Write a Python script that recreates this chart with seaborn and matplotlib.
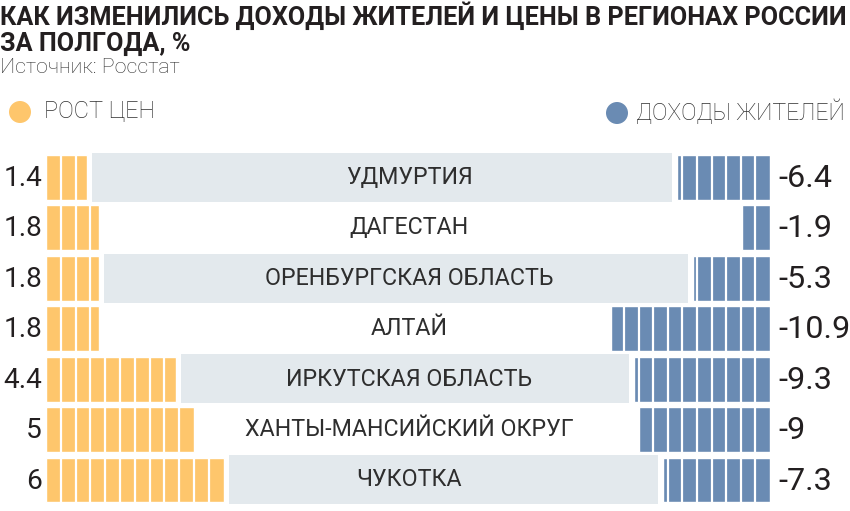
import matplotlib
matplotlib.use("Agg")
import matplotlib.pyplot as plt
import matplotlib.transforms as mtransforms
from matplotlib.patches import Rectangle, Ellipse
import seaborn as sns
import numpy as np
import pandas as pd

# ---- data ----
regions = ["УДМУРТИЯ", "ДАГЕСТАН", "ОРЕНБУРГСКАЯ ОБЛАСТЬ", "АЛТАЙ",
           "ИРКУТСКАЯ ОБЛАСТЬ", "ХАНТЫ-МАНСИЙСКИЙ ОКРУГ", "ЧУКОТКА"]
prices = [1.4, 1.8, 1.8, 1.8, 4.4, 5, 6]
incomes = [-6.4, -1.9, -5.3, -10.9, -9.3, -9, -7.3]
price_labels = ["1.4", "1.8", "1.8", "1.8", "4.4", "5", "6"]
income_labels = ["-6.4", "-1.9", "-5.3", "-10.9", "-9.3", "-9", "-7.3"]
title_line1 = "КАК ИЗМЕНИЛИСЬ ДОХОДЫ ЖИТЕЛЕЙ И ЦЕНЫ В РЕГИОНАХ РОССИИ"
title_line2 = "ЗА ПОЛГОДА, %"
source = "Источник: Росстат"
legend_labels = ["РОСТ ЦЕН", "ДОХОДЫ ЖИТЕЛЕЙ"]

YELLOW = "#fec66c"
BLUE = "#6a8bb3"
BOX = "#e3e9ed"
INK = "#231f20"

sns.set_theme(style="white")
plt.rcParams["font.family"] = ["Roboto", "DejaVu Sans"]

W, H = 850, 511
fig = plt.figure(figsize=(W / 100, H / 100), dpi=100)
renderer = fig.canvas.get_renderer()


def fx(x):
    return x / W


def fy(y):
    return 1 - y / H


def fit_size(text, target_px, **kw):
    t = fig.text(0, 0, text, fontsize=20, **kw)
    w = t.get_window_extent(renderer).width
    t.remove()
    return 20 * target_px / w


# bar area: x from 46 to 770 px, rows from 152 to 505 px
left_px, right_px = 46, 770
top_px, bot_px = 152.3, 505.2
rect = [fx(left_px), fy(bot_px), fx(right_px - left_px), (bot_px - top_px) / H]
yellow_scale = 29.6  # px per unit
blue_scale = 14.6

df = pd.DataFrame({"region": regions, "price": prices,
                   "income": np.abs(incomes)})

ax_y = fig.add_axes(rect)
ax_b = fig.add_axes(rect)
ax_b.patch.set_alpha(0)

bar_h = 0.89
sns.barplot(data=df, x="price", y="region", orient="h", ax=ax_y,
            color=YELLOW, saturation=1, width=bar_h, zorder=2)
sns.barplot(data=df, x="income", y="region", orient="h", ax=ax_b,
            color=BLUE, saturation=1, width=bar_h, zorder=2)

ax_y.set_xlim(0, (right_px - left_px) / yellow_scale)
ax_b.set_xlim((right_px - left_px) / blue_scale, 0)
for ax in (ax_y, ax_b):
    ax.set_ylim(len(regions) - 0.5, -0.5)
    ax.axis("off")

# segment dividers
for i, (p, inc) in enumerate(zip(prices, np.abs(incomes))):
    xs = np.arange(0.5, p, 0.5)
    ax_y.vlines(xs, i - bar_h / 2, i + bar_h / 2, color="white", lw=1.6, zorder=3)
    xb = np.arange(1, inc, 1.0)
    ax_b.vlines(xb, i - bar_h / 2, i + bar_h / 2, color="white", lw=1.6, zorder=3)

# grey label boxes on alternating rows
gap = 5 / yellow_scale
inv = ax_y.transData.inverted()
for i in range(0, len(regions), 2):
    xd = ax_b.transData.transform((abs(incomes[i]), i))[0]
    xstart_b = inv.transform((xd, 0))[0]
    x0 = prices[i] + gap
    x1 = xstart_b - gap
    ax_y.add_patch(Rectangle((x0, i - 0.5 + 0.01), x1 - x0, 0.97,
                             facecolor=BOX, edgecolor="none", zorder=0))

# row texts
reg_fs = fit_size("ОРЕНБУРГСКАЯ ОБЛАСТЬ", 290)
num_fs_r = fit_size("-6.4", 54)
num_fs_l = fit_size("4.4", 39)
bt = mtransforms.blended_transform_factory(fig.transFigure, ax_y.transData)
for i, reg in enumerate(regions):
    ax_y.text(fx(409), i, reg, transform=bt, ha="center", va="center",
              fontsize=reg_fs, color="#2e2e2e", zorder=4)
    ax_y.text(fx(42), i + 0.02, price_labels[i], transform=bt, ha="right",
              va="center", fontsize=num_fs_l, color=INK)
    ax_y.text(fx(778), i + 0.02, income_labels[i], transform=bt, ha="left",
              va="center", fontsize=num_fs_r, color=INK)

# title & source
t_fs = fit_size(title_line1, 843, fontweight="bold")
fig.text(fx(0), fy(16), title_line1, ha="left", va="center", fontsize=t_fs,
         fontweight="bold", color=INK)
fig.text(fx(0), fy(44), title_line2, ha="left", va="center", fontsize=t_fs,
         fontweight="bold", color=INK)
s_fs = fit_size(source, 180, fontweight="light")
fig.text(fx(0), fy(67), source, ha="left", va="center", fontsize=s_fs,
         fontweight="light", color="#2e2e2e")

# legend
l1_fs = fit_size(legend_labels[0], 111, fontweight="light")
l2_fs = fit_size(legend_labels[1], 209, fontweight="light")
fig.patches.append(Ellipse((fx(20), fy(112)), 22 / W, 22 / H,
                           transform=fig.transFigure, facecolor=YELLOW,
                           edgecolor="none"))
fig.text(fx(44), fy(112), legend_labels[0], ha="left", va="center",
         fontsize=l1_fs, fontweight="light", color="#2e2e2e")
fig.patches.append(Ellipse((fx(617), fy(113)), 22 / W, 22 / H,
                           transform=fig.transFigure, facecolor=BLUE,
                           edgecolor="none"))
fig.text(fx(636), fy(112), legend_labels[1], ha="left", va="center",
         fontsize=l2_fs, fontweight="light", color="#2e2e2e")

fig.savefig("out.png", dpi=100, facecolor="white")
